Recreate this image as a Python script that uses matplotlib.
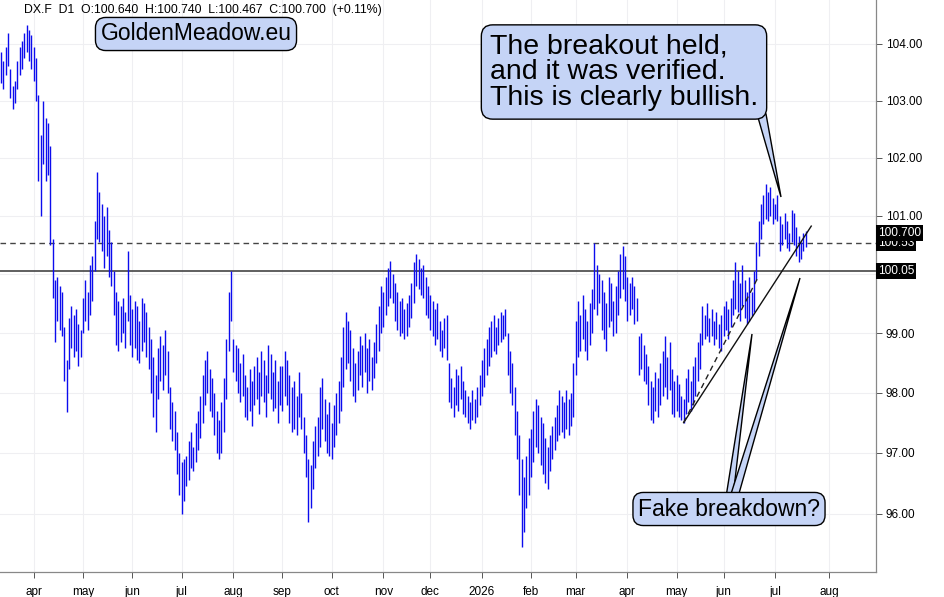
import numpy as np
import matplotlib.pyplot as plt
import matplotlib.transforms as mtransforms
from matplotlib.patches import Polygon
from matplotlib.ticker import FixedLocator, FuncFormatter, NullLocator

plt.rcParams['font.family'] = ['Liberation Sans', 'DejaVu Sans']

# daily highs / lows of DX.F, one value per trading day (mid-Mar 2025 .. mid-Jul 2026)
highs = [
    103.85, 103.70, 103.95, 104.20, 103.55, 103.25, 103.35, 103.70, 103.95, 104.05,
    104.20, 104.33, 104.25, 104.15, 103.95, 103.75, 103.10, 102.40, 103.00, 102.70,
    102.60, 102.20, 100.60, 99.90, 99.95, 99.80, 99.70, 99.10, 98.55, 99.25,
    99.45, 99.30, 99.40, 99.15, 99.05, 99.60, 99.90, 99.70, 100.15, 100.30,
    100.90, 101.75, 101.40, 101.20, 101.00, 101.15, 100.75, 100.55, 100.05, 99.70,
    99.55, 99.45, 99.60, 99.35, 100.40, 99.65, 99.40, 99.55, 99.45, 99.20,
    99.60, 99.50, 99.35, 99.10, 98.90, 98.60, 98.30, 98.75, 98.95, 98.80,
    99.05, 98.70, 98.10, 97.85, 97.70, 97.35, 97.00, 96.85, 96.90, 96.95,
    97.20, 97.35, 97.10, 97.50, 97.70, 97.95, 98.30, 98.55, 98.70, 98.40,
    98.25, 98.00, 97.70, 97.55, 97.85, 98.25, 98.90, 99.70, 100.05, 98.90,
    98.80, 98.75, 98.50, 98.65, 98.30, 98.10, 98.40, 98.20, 98.45, 98.60,
    98.35, 98.70, 98.55, 98.30, 98.80, 98.65, 98.35, 98.55, 98.20, 98.45,
    98.45, 98.70, 98.55, 98.30, 98.10, 98.20, 97.95, 98.35, 98.00, 97.60,
    97.30, 96.90, 96.80, 97.20, 97.45, 97.60, 98.10, 98.25, 97.90, 97.65,
    97.85, 97.50, 97.80, 98.00, 98.20, 98.60, 99.10, 99.35, 99.20, 99.05,
    98.75, 98.50, 98.70, 98.95, 98.80, 99.00, 98.75, 98.90, 98.60, 98.85,
    99.15, 99.45, 99.80, 99.70, 99.95, 100.10, 100.22, 100.00, 99.85, 99.70,
    99.55, 99.60, 99.40, 99.50, 99.65, 99.85, 100.20, 100.35, 100.25, 100.10,
    100.15, 99.95, 99.80, 99.65, 99.55, 99.40, 99.50, 99.20, 99.05, 99.25,
    99.30, 98.50, 98.25, 98.10, 98.40, 98.30, 98.45, 98.20, 98.05, 97.95,
    97.85, 98.05, 97.90, 98.10, 98.30, 98.55, 98.75, 98.90, 99.10, 99.20,
    99.30, 99.10, 99.25, 99.35, 99.30, 99.40, 99.00, 98.70, 98.50, 98.10,
    97.70, 97.30, 96.90, 96.60, 96.95, 97.25, 97.40, 97.70, 97.90, 97.80,
    97.60, 97.50, 97.25, 97.10, 97.30, 97.45, 97.60, 97.80, 98.05, 97.95,
    97.85, 98.05, 97.90, 98.00, 98.50, 99.20, 99.55, 99.30, 99.65, 99.40,
    99.20, 99.50, 99.75, 100.53, 100.15, 100.00, 99.90, 99.70, 99.50, 99.95,
    99.85, 99.55, 99.80, 100.05, 100.35, 100.48, 100.30, 99.95, 99.85, 99.95,
    99.80, 99.60, 98.95, 99.00, 98.80, 98.65, 98.45, 98.20, 98.10, 98.35,
    98.25, 98.50, 98.70, 98.95, 98.60, 98.85, 98.40, 98.20, 98.30, 98.15,
    97.95, 97.90, 98.25, 98.40, 98.20, 98.45, 98.60, 98.85, 99.00, 99.45,
    99.30, 99.50, 99.25, 99.40, 99.20, 99.35, 99.15, 99.30, 99.45, 99.55,
    99.40, 99.60, 99.90, 100.20, 100.05, 99.85, 100.15, 99.90, 99.70, 99.95,
    99.70, 100.05, 100.55, 100.90, 101.20, 101.35, 101.55, 101.40, 101.50, 101.30,
    101.20, 101.35, 101.00, 100.85, 101.05, 100.90, 100.70, 101.10, 101.05, 100.80,
    100.65, 100.55, 100.70, 100.74,
]
lows = [
    103.30, 103.20, 103.45, 103.60, 103.05, 102.85, 102.95, 103.20, 103.45, 103.55,
    103.75, 103.85, 103.70, 103.55, 103.35, 103.00, 101.60, 101.00, 101.90, 101.60,
    101.70, 100.50, 99.60, 98.85, 99.20, 99.05, 98.95, 98.20, 97.68, 98.40,
    98.75, 98.60, 98.70, 98.45, 98.60, 99.00, 99.20, 99.05, 99.30, 99.55,
    100.05, 100.60, 100.55, 100.40, 100.10, 100.30, 99.95, 99.80, 99.30, 98.80,
    98.70, 98.85, 99.00, 98.75, 99.20, 98.80, 98.60, 98.75, 98.55, 98.50,
    98.70, 98.85, 98.60, 98.40, 98.00, 97.60, 97.35, 97.90, 98.20, 98.05,
    98.30, 98.00, 97.40, 97.20, 97.05, 96.65, 96.30, 96.00, 96.20, 96.45,
    96.55, 96.75, 96.70, 96.85, 97.05, 97.25, 97.50, 97.80, 98.00, 97.70,
    97.60, 97.30, 97.00, 96.90, 97.00, 97.35, 97.90, 98.70, 99.20, 98.35,
    98.20, 98.00, 97.85, 97.95, 97.60, 97.55, 97.70, 97.45, 97.80, 97.90,
    97.65, 97.95, 97.85, 97.60, 98.00, 97.90, 97.70, 97.75, 97.50, 97.80,
    97.70, 97.95, 97.80, 97.50, 97.35, 97.40, 97.30, 97.60, 97.40, 97.00,
    96.60, 95.87, 96.10, 96.40, 96.75, 96.95, 97.10, 97.40, 97.20, 97.00,
    96.95, 96.90, 97.10, 97.30, 97.50, 97.70, 98.10, 98.40, 98.50, 98.20,
    97.95, 97.85, 98.05, 98.30, 98.10, 98.35, 98.00, 98.20, 98.05, 98.25,
    98.50, 98.70, 99.00, 99.10, 99.30, 99.45, 99.60, 99.50, 99.20, 99.05,
    98.95, 99.00, 98.90, 98.95, 99.10, 99.25, 99.50, 99.80, 99.75, 99.65,
    99.60, 99.30, 99.25, 99.05, 98.95, 98.80, 98.90, 98.70, 98.60, 98.75,
    98.55, 97.85, 97.75, 97.60, 97.80, 97.70, 97.90, 97.65, 97.60, 97.50,
    97.40, 97.55, 97.50, 97.60, 97.80, 97.95, 98.10, 98.30, 98.45, 98.60,
    98.70, 98.65, 98.80, 98.85, 98.90, 98.95, 98.30, 98.00, 97.80, 97.30,
    96.90, 96.30, 95.46, 95.70, 96.10, 96.30, 96.60, 96.85, 97.10, 97.00,
    96.80, 96.65, 96.50, 96.40, 96.70, 96.90, 97.05, 97.20, 97.30, 97.35,
    97.25, 97.40, 97.30, 97.45, 97.60, 98.30, 98.60, 98.70, 98.90, 98.70,
    98.55, 98.80, 99.00, 99.40, 99.30, 99.50, 99.05, 98.90, 98.70, 99.10,
    99.20, 98.95, 99.00, 99.30, 99.60, 99.75, 99.55, 99.20, 99.30, 99.40,
    99.15, 99.20, 98.30, 98.40, 98.20, 98.15, 97.80, 97.55, 97.50, 97.70,
    97.60, 97.80, 97.95, 98.10, 97.90, 98.05, 97.65, 97.60, 97.70, 97.60,
    97.55, 97.50, 97.65, 97.85, 97.70, 97.80, 97.95, 98.20, 98.40, 98.80,
    98.90, 98.95, 98.85, 98.95, 98.80, 98.90, 98.75, 98.70, 98.95, 99.05,
    98.90, 99.10, 99.30, 99.40, 99.35, 99.20, 99.45, 99.25, 99.15, 99.20,
    99.28, 99.35, 99.90, 100.30, 100.60, 100.85, 100.95, 100.90, 101.00, 100.85,
    100.95, 100.90, 100.40, 100.50, 100.60, 100.45, 100.40, 100.55, 100.50, 100.30,
    100.20, 100.25, 100.40, 100.47,
]

# first trading day of each month (bar index) and its label
month_pos = [14, 35, 56, 77, 99, 120, 141, 163, 183, 205, 226, 245, 267, 288, 308, 330, 353]
month_labels = ['apr', 'may', 'jun', 'jul', 'aug', 'sep', 'oct', 'nov', 'dec', '2026',
                'feb', 'mar', 'apr', 'may', 'jun', 'jul', 'aug']
price_ticks = [96, 97, 98, 99, 100, 101, 102, 103, 104]

support = 100.05
resistance = 100.53
last_close = 100.700
header = 'DX.F  D1  O:100.640  H:100.740  L:100.467  C:100.700  (+0.11%)'

W, H = 945, 597
fig = plt.figure(figsize=(W / 100, H / 100), dpi=100)
ax = fig.add_axes([0, 25 / H, 876 / W, 572 / H])

x = np.arange(len(highs))
ax.vlines(x, lows, highs, color='#0c0cee', lw=1.0, zorder=3)

ax.set_yscale('log')
ax.set_xlim(-0.4, 373)
ax.set_ylim(95.05, 104.78)

ax.yaxis.set_major_locator(FixedLocator(price_ticks))
# the 100.00 label sits under the 100.05 level tag, so leave it blank
ax.yaxis.set_major_formatter(FuncFormatter(lambda v, p: '' if v == 100 else '%.2f' % v))
ax.yaxis.set_minor_locator(NullLocator())
ax.yaxis.tick_right()
ax.set_xticks(month_pos)
ax.set_xticklabels(month_labels)
ax.tick_params(axis='both', labelsize=8.5, length=4, width=0.7, color='#555555', pad=3)
ax.tick_params(axis='x', pad=6)
ax.grid(True, color='#efeff2', lw=0.8, zorder=0)

for s in ['top', 'left']:
    ax.spines[s].set_visible(False)
for s in ['right', 'bottom']:
    ax.spines[s].set_color('#888888')
    ax.spines[s].set_linewidth(0.9)

# horizontal levels
ax.axhline(support, color='#444444', lw=1.2, zorder=2)
ax.axhline(resistance, color='#444444', lw=1.0, ls=(0, (4, 3)), zorder=2)

# rising support lines from the May low
lo = int(np.argmin(lows[280:300])) + 280
ax.plot([lo, 345.4], [lows[lo], 100.82], color='#111111', lw=1.0, zorder=4)
ax.plot([lo, 322.8], [lows[lo], 99.95], color='#222222', lw=1.0, ls=(0, (4, 3)), zorder=4)

# price labels on the axis
trans = mtransforms.blended_transform_factory(ax.transAxes, ax.transData)
for val, txt, z in [(support, '100.05', 5), (resistance, '100.53', 5), (last_close, '100.700', 6)]:
    ax.text(1.002, val, txt, transform=trans, color='white', fontsize=8.6, va='center',
            ha='left', zorder=z, clip_on=False,
            bbox=dict(boxstyle='square,pad=0.15', fc='black', ec='none'))

fig.text(24 / W, 1 - 10 / H, header, fontsize=8.8, va='center', ha='left')

blue = '#c5d4f6'


def px(xp, yp):
    return (xp / W, 1 - yp / H)


# callout tails (pixel geometry of the annotation)
tails = [
    [px(757, 114), px(766, 114), px(781, 197)],
    [px(726, 497), px(733, 497), px(752, 334)],
    [px(730, 497), px(738, 497), px(800, 278)],
]
for t in tails:
    fig.patches.append(Polygon(t, closed=True, fc=blue, ec='black', lw=1.0,
                               transform=fig.transFigure, zorder=5))

box = dict(boxstyle='round,pad=0.22,rounding_size=0.45', fc=blue, ec='black', lw=1.0)
fig.text(196 / W, 1 - 34 / H, 'GoldenMeadow.eu', fontsize=16.5, ha='center', va='center',
         bbox=box, zorder=10)
fig.text(624 / W, 1 - 72 / H, 'The breakout held,\nand it was verified.\nThis is clearly bullish.',
         fontsize=20.5, ha='center', va='center', linespacing=0.98, multialignment='left',
         bbox=dict(boxstyle='round,pad=0.3,rounding_size=0.4', fc=blue, ec='black', lw=1.0),
         zorder=10)
fig.text(729 / W, 1 - 509 / H, 'Fake breakdown?', fontsize=16.5, ha='center', va='center',
         bbox=box, zorder=10)

fig.savefig('out.png', dpi=100)
